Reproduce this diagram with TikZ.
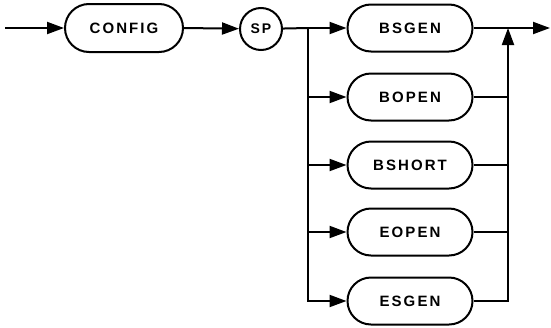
\documentclass[tikz,border=0pt]{standalone}
\usepackage{fontspec}
\newfontfamily\diagfont[LetterSpace=14]{Liberation Sans}
\usetikzlibrary{arrows.meta,shapes.misc}
\begin{document}
\begin{tikzpicture}[x=1pt,y=-1pt,
  line width=2pt,
  kw/.style={draw,rounded rectangle,minimum width=125pt,minimum height=47pt,
    inner sep=0pt,font=\diagfont\bfseries\fontsize{15}{15}\selectfont},
  circ/.style={draw,circle,minimum size=42pt,inner sep=0pt,
    font=\diagfont\bfseries\fontsize{14}{14}\selectfont},
  arr/.style={-{Triangle[length=17pt,width=12pt]}}]
\useasboundingbox (0,0) rectangle (551,327);
\coordinate (start) at (5,28);
\node[kw,minimum width=118pt,minimum height=48pt] (config) at (124,28) {CONFIG};
\node[circ] (sp) at (261,29) {SP};
\coordinate (split) at (308,28);
\coordinate (merge) at (508,28);
\coordinate (end) at (550,28);
\node[kw] (bsgen) at (410,28) {BSGEN};
\node[kw] (bopen) at (410,97) {BOPEN};
\node[kw] (bshort) at (410,165) {BSHORT};
\node[kw] (eopen) at (410,232) {EOPEN};
\node[kw] (esgen) at (410,301) {ESGEN};
\draw[arr] (start) -- (config.west);
\draw[arr] (config.east) -- (sp);
\draw (sp) -- (split);
\draw[arr] (split) -- (bsgen.west);
\draw[arr] (split) |- (bopen.west);
\draw[arr] (split) |- (bshort.west);
\draw[arr] (split) |- (eopen.west);
\draw[arr] (split) |- (esgen.west);
\draw[arr] (bsgen.east) -- (end);
\draw (bopen.east) -- (bopen.east -| merge);
\draw (bshort.east) -- (bshort.east -| merge);
\draw (eopen.east) -- (eopen.east -| merge);
\draw[arr] (esgen.east) -| (merge);
\end{tikzpicture}
\end{document}
